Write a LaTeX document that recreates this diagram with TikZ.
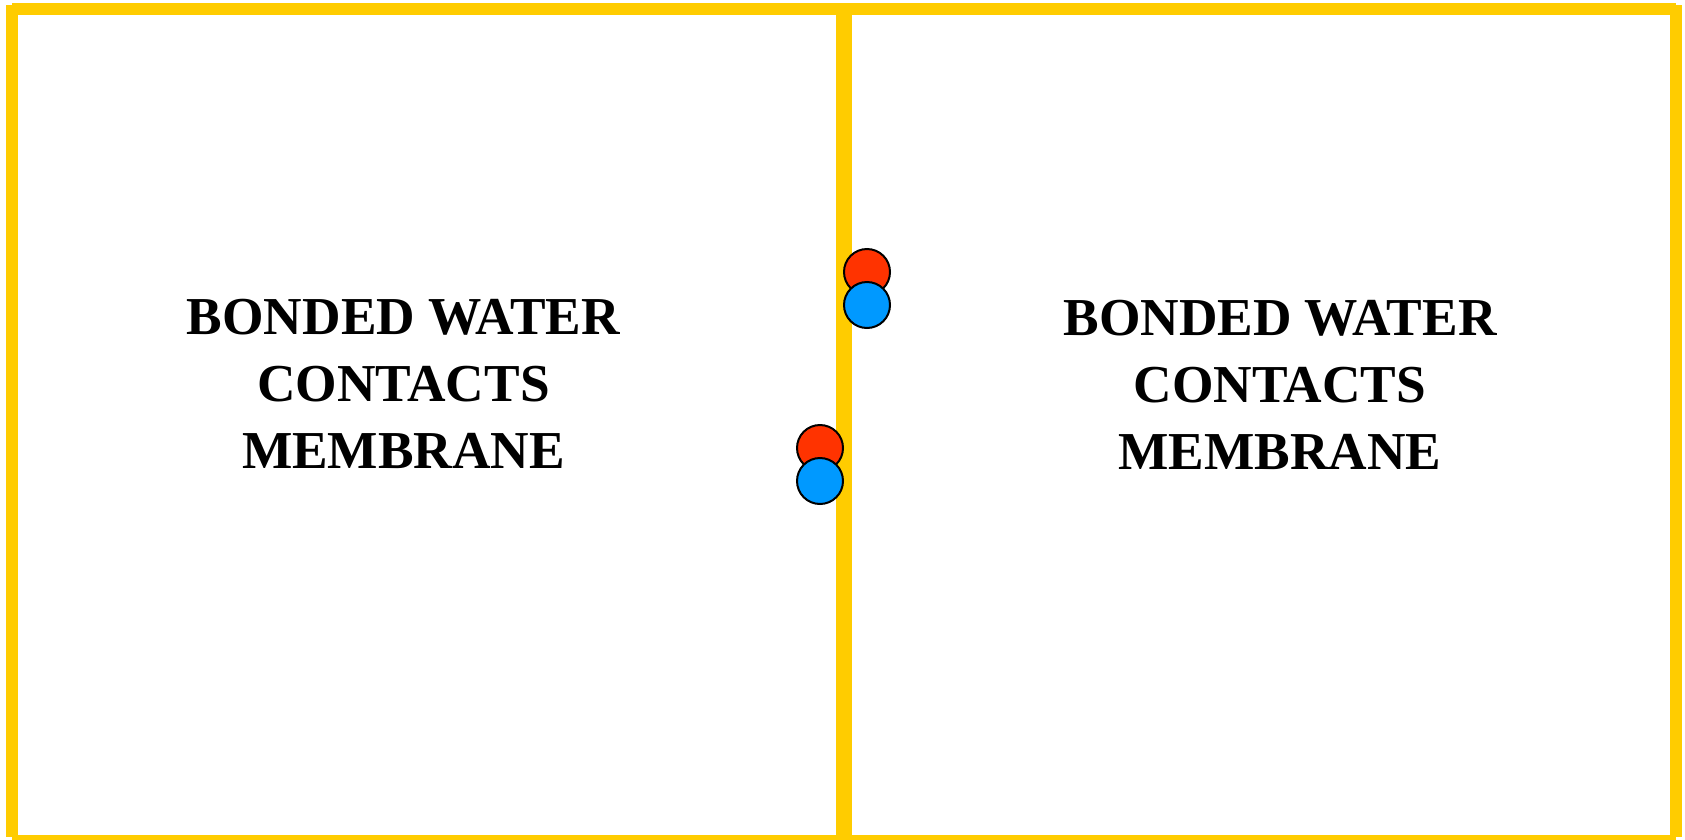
\documentclass[tikz,border=0pt]{standalone}
\usepackage{fontspec}
\setmainfont{Liberation Serif}
\definecolor{frameyellow}{HTML}{FFCC00}
\definecolor{ionred}{HTML}{FF3300}
\definecolor{ionblue}{HTML}{0099FF}
\tikzset{
  framebar/.style={draw=frameyellow, line width=9pt, line cap=butt},
  midbar/.style={draw=frameyellow, line width=12pt, line cap=butt},
  ion/.style={circle, draw=black, line width=1.5pt, minimum size=34.5pt, inner sep=0pt},
  redion/.style={ion, fill=ionred},
  blueion/.style={ion, fill=ionblue},
  label/.style={align=center, inner sep=0pt, font=\fontsize{40}{50.25}\selectfont\bfseries}
}
\begin{document}
\begin{tikzpicture}[x=0.75pt, y=-0.75pt]
\useasboundingbox (0,0) rectangle (1685,839);
\fill[white] (0,0) rectangle (1685,839);
% frame
\coordinate (tl) at (12,9);
\coordinate (tr) at (1676,9);
\coordinate (ltop) at (12,5);
\coordinate (lbot) at (12,837);
\coordinate (rtop) at (1676,5);
\coordinate (rbot) at (1676,837);
\coordinate (bl) at (12,841);
\coordinate (br) at (1676,841);
\coordinate (mtop) at (844,9);
\coordinate (mbot) at (844,841);
\draw[framebar] (tl) -- (tr);
\draw[framebar] (ltop) -- (lbot);
\draw[framebar] (rtop) -- (rbot);
\draw[framebar] (bl) -- (br);
\draw[midbar] (mtop) -- (mbot);
% labels
\node[label] (lefttext) at (403.5,384) {BONDED WATER\\CONTACTS\\MEMBRANE};
\node[label] (righttext) at (1280,385) {BONDED WATER\\CONTACTS\\MEMBRANE};
% ions
\node[redion] (r1) at (867,272) {};
\node[blueion] (b1) at (867,305) {};
\node[redion] (r2) at (820,448) {};
\node[blueion] (b2) at (820,481) {};
\end{tikzpicture}
\end{document}
